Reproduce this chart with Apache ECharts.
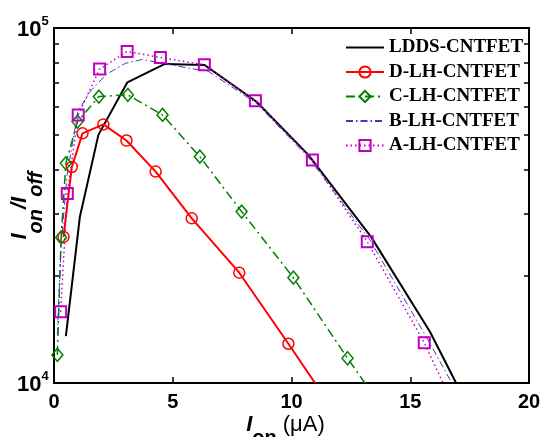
<!DOCTYPE html>
<html>
<head>
<meta charset="utf-8">
<script src="https://cdn.jsdelivr.net/npm/echarts@6/dist/echarts.min.js"></script>
<style>
  html, body { margin: 0; padding: 0; background: #fff; }
  #chart { width: 541px; height: 437px; }
</style>
</head>
<body>
<div id="chart"></div>
<script>
// I_on (uA) vs I_on/I_off
var lddsX = [0.5, 1.09, 1.87, 3.09, 4.67, 6.33, 8.53, 10.71, 13.35, 15.83, 16.93];
var lddsY = [13560, 29400, 50000, 70300, 79200, 78700, 62000, 43900, 25800, 13950, 10000];

var dX = [0.4, 0.75, 1.2, 2.08, 3.05, 4.28, 5.8, 7.8, 9.87, 10.99];
var dY = [25800, 40600, 50500, 53500, 48200, 39400, 29100, 20450, 12900, 10000];

var cX = [0.14, 0.3, 0.5, 0.99, 1.89, 3.11, 4.57, 6.14, 7.9, 10.08, 12.36, 13.09];
var cY = [12000, 25700, 41600, 54500, 64100, 64800, 56900, 43400, 30400, 19800, 11740, 10000];

var bX = [0.14, 0.3, 0.55, 1.0, 1.5, 2.2, 3.0, 3.7, 4.6, 5.7, 6.5, 8.5, 10.7, 13.3, 15.7, 16.75];
var bY = [13650, 24500, 38500, 58000, 66000, 74000, 79500, 81500, 79500, 77000, 75500, 61500, 43300, 25300, 13400, 10000];

var aX = [0.28, 0.56, 1.02, 1.92, 3.08, 4.48, 6.33, 8.48, 10.88, 13.19, 15.59, 16.38];
var aY = [15880, 34200, 56900, 76600, 85900, 82600, 78800, 62400, 42500, 25000, 12990, 10000];

var names = ['LDDS-CNTFET', 'D-LH-CNTFET', 'C-LH-CNTFET', 'B-LH-CNTFET', 'A-LH-CNTFET'];
var minorTicks = [20000, 30000, 40000, 50000, 60000, 70000, 80000, 90000];

// last point is where the curve leaves the axes: no marker there
function pts(xs, ys) {
    return xs.map(function (x, i) {
        if (i === xs.length - 1) return { value: [x, ys[i]], symbol: 'none' };
        return [x, ys[i]];
    });
}

var myChart = echarts.init(document.getElementById('chart'));

var minorAxis = function (pos) {
    return {
        type: 'value', position: pos, min: 4, max: 5,
        axisLine: { show: false },
        splitLine: { show: false },
        axisLabel: { show: false },
        axisTick: {
            show: true, inside: true, length: 5,
            lineStyle: { color: '#000', width: 1.5 },
            customValues: minorTicks.map(function (v) { return Math.log10(v); })
        }
    };
};

var topX = {
    type: 'value', position: 'top', min: 0, max: 20, interval: 5,
    axisLine: { show: false },
    splitLine: { show: false },
    axisLabel: { show: false },
    axisTick: { inside: true, length: 6, lineStyle: { color: '#000', width: 1.5 } }
};

var noMarker = { color: 'rgba(0,0,0,0)', borderWidth: 0 };

option = {
    animation: false,
    backgroundColor: '#fff',
    grid: {
        left: 54, right: 12, top: 28, bottom: 54,
        outerBoundsMode: 'none',
        show: true, borderColor: '#000', borderWidth: 2, backgroundColor: 'transparent'
    },
    legend: {
        data: names,
        orient: 'vertical',
        left: 340, top: 33,
        itemWidth: 38, itemHeight: 14, itemGap: 5.5,
        textStyle: { fontFamily: 'Liberation Serif', fontWeight: 'bold', fontSize: 19, lineHeight: 19, color: '#000' }
    },
    xAxis: [{
        type: 'value', position: 'bottom', min: 0, max: 20, interval: 5,
        axisLine: { lineStyle: { color: '#000', width: 2 } },
        axisTick: { inside: true, length: 6, lineStyle: { color: '#000', width: 1.5 } },
        splitLine: { show: false },
        axisLabel: { margin: 9, color: '#000', fontFamily: 'Liberation Sans', fontWeight: 'bold', fontSize: 20 },
        name: '{i|I}{sub|on}{n|(μA)}{h| }',
        nameLocation: 'middle', nameGap: 31, nameMoveOverlap: false,
        nameTextStyle: {
            color: '#000',
            rich: {
                i: { fontFamily: 'Liberation Sans', fontStyle: 'italic', fontWeight: 'bold', fontSize: 22, lineHeight: 22, verticalAlign: 'top' },
                sub: { fontFamily: 'Liberation Sans', fontWeight: 'bold', fontSize: 20, lineHeight: 20, verticalAlign: 'bottom', padding: [0, 6, 0, 0] },
                n: { fontFamily: 'Liberation Sans', fontSize: 22, lineHeight: 22, verticalAlign: 'top' },
                h: { fontSize: 1, lineHeight: 34, width: 12 }
            }
        }
    }, topX],
    yAxis: [{
        type: 'log', logBase: 10, position: 'left', min: 10000, max: 100000,
        axisLine: { lineStyle: { color: '#000', width: 2 } },
        axisTick: { show: false },
        splitLine: { show: false },
        axisLabel: {
            margin: 5,
            formatter: function (v) {
                return '{b|10}{s|' + Math.round(Math.log10(v)) + '}{h| }';
            },
            rich: {
                b: { fontFamily: 'Liberation Sans', fontWeight: 'bold', fontSize: 22, color: '#000', lineHeight: 22, verticalAlign: 'bottom' },
                s: { fontFamily: 'Liberation Sans', fontWeight: 'bold', fontSize: 13, color: '#000', lineHeight: 13, verticalAlign: 'top' },
                h: { fontSize: 1, lineHeight: 26 }
            }
        },
        name: '{i|I}{sub|on}{i|/I}{sub|off}{h| }',
        nameLocation: 'middle', nameGap: 8, nameMoveOverlap: false,
        nameTextStyle: {
            color: '#000',
            rich: {
                i: { fontFamily: 'Liberation Sans', fontStyle: 'italic', fontWeight: 'bold', fontSize: 22, lineHeight: 22, verticalAlign: 'top' },
                sub: { fontFamily: 'Liberation Sans', fontStyle: 'italic', fontWeight: 'bold', fontSize: 20, lineHeight: 20, verticalAlign: 'bottom' },
                h: { fontSize: 1, lineHeight: 37 }
            }
        }
    }, minorAxis('left'), minorAxis('right')],
    series: [
        {
            name: names[0], type: 'line', data: pts(lddsX, lddsY),
            symbol: 'circle', showSymbol: false,
            lineStyle: { color: '#000', width: 2 },
            itemStyle: noMarker
        },
        {
            name: names[1], type: 'line', data: pts(dX, dY),
            symbol: 'circle', symbolSize: 11,
            lineStyle: { color: '#ff0000', width: 2 },
            itemStyle: { color: 'rgba(0,0,0,0)', borderColor: '#ff0000', borderWidth: 1.5 }
        },
        {
            name: names[2], type: 'line', data: pts(cX, cY),
            symbol: 'diamond', symbolSize: [11, 13],
            lineStyle: { color: '#008000', width: 1.5, type: [9, 4, 2, 4] },
            itemStyle: { color: 'rgba(0,0,0,0)', borderColor: '#008000', borderWidth: 1.5 }
        },
        {
            name: names[3], type: 'line', data: pts(bX, bY),
            symbol: 'circle', showSymbol: false,
            lineStyle: { color: '#3c3cc8', width: 1, type: [7, 3, 1.5, 3] },
            itemStyle: noMarker
        },
        {
            name: names[4], type: 'line', data: pts(aX, aY),
            symbol: 'rect', symbolSize: 11,
            lineStyle: { color: '#bf00bf', width: 1.5, type: [1.5, 3] },
            itemStyle: { color: 'rgba(0,0,0,0)', borderColor: '#bf00bf', borderWidth: 2 }
        }
    ]
};

myChart.setOption(option);
</script>
</body>
</html>
